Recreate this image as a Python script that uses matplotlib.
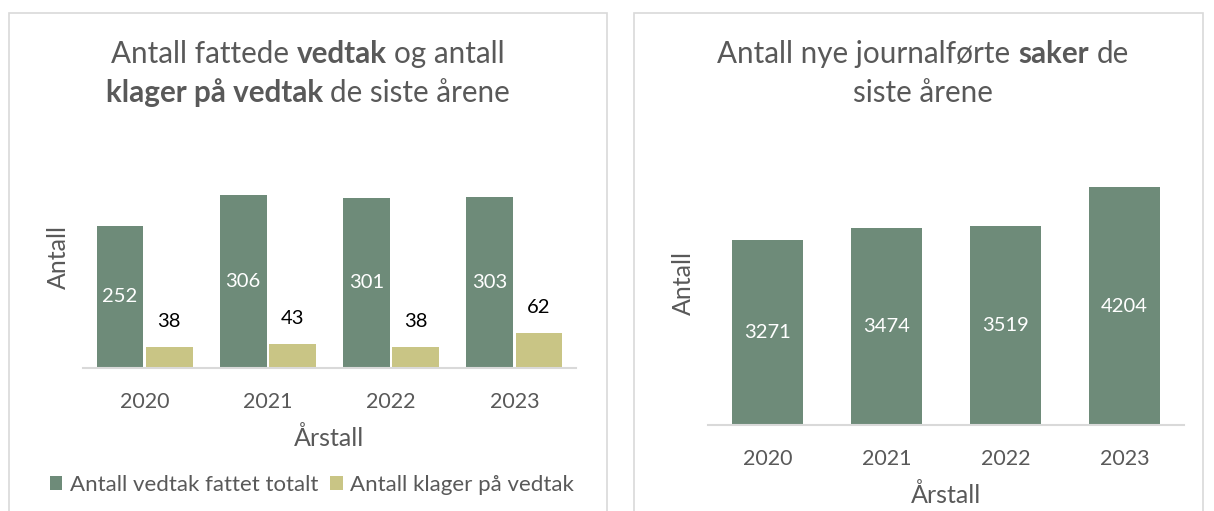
import matplotlib.pyplot as plt
import numpy as np
from matplotlib.patches import Rectangle

plt.rcParams['font.family'] = ['Lato', 'DejaVu Sans']

# Data
aar = ['2020', '2021', '2022', '2023']
vedtak = [252, 306, 301, 303]
klager = [38, 43, 38, 62]
saker = [3271, 3474, 3519, 4204]

W, H = 1214, 511
fig = plt.figure(figsize=(W / 100, H / 100), dpi=100)


def fx(px):
    return px / W


def fy(py):
    return 1 - py / H


gra = '#595959'
gronn = '#6E8B79'
gul = '#C9C585'
linje = '#D9D9D9'

# rammer rundt de to diagrammene
fig.add_artist(Rectangle((fx(9), fy(520)), fx(607) - fx(9), fy(13) - fy(520),
                         transform=fig.transFigure, fill=False, edgecolor=linje, lw=1.2))
fig.add_artist(Rectangle((fx(634), fy(520)), fx(1203) - fx(634), fy(13) - fy(520),
                         transform=fig.transFigure, fill=False, edgecolor=linje, lw=1.2))


def stil_akse(ax):
    for s in ['top', 'left', 'right']:
        ax.spines[s].set_visible(False)
    ax.spines['bottom'].set_color(linje)
    ax.spines['bottom'].set_linewidth(1.5)
    ax.set_yticks([])
    ax.tick_params(axis='x', length=0, labelsize=15.5, labelcolor=gra, pad=17)


# venstre diagram
ax1 = fig.add_axes([fx(83), fy(368), fx(576) - fx(83), fy(170) - fy(368)])
x = np.arange(len(aar))
b1 = ax1.bar(x - 0.2, vedtak, 0.38, color=gronn, label='Antall vedtak fattet totalt')
b2 = ax1.bar(x + 0.2, klager, 0.38, color=gul, label='Antall klager på vedtak')
ax1.set_xlim(-0.5, 3.5)
ax1.set_ylim(0, 198 / 0.565)
ax1.set_xticks(x, aar)
stil_akse(ax1)
for xi, v in zip(x, vedtak):
    ax1.text(xi - 0.2, v / 2, str(v), ha='center', va='center', color='white', fontsize=14.5)
for xi, v in zip(x, klager):
    ax1.annotate(str(v), (xi + 0.2, v), xytext=(0, 18), textcoords='offset points',
                 ha='center', va='center', color='black', fontsize=14.5)

fig.text(fx(58), fy(257), 'Antall', rotation=90, ha='center', va='center', color=gra, fontsize=18)
fig.text(fx(329), fy(438), 'Årstall', ha='center', va='center', color=gra, fontsize=18)

fig.legend(handles=[b1, b2], loc='center', bbox_to_anchor=(fx(312), fy(485)), ncol=2,
           frameon=False, fontsize=16, labelcolor=gra, handlelength=0.55, handleheight=0.55,
           handletextpad=0.35, columnspacing=0.55)

# høyre diagram
ax2 = fig.add_axes([fx(708), fy(425), fx(1184) - fx(708), fy(170) - fy(425)])
ax2.bar(x, saker, 0.59, color=gronn)
ax2.set_xlim(-0.5, 3.5)
ax2.set_ylim(0, 255 / 0.0566)
ax2.set_xticks(x, aar)
stil_akse(ax2)
for xi, v in zip(x, saker):
    ax2.text(xi, v / 2, str(v), ha='center', va='center', color='white', fontsize=14.5)

fig.text(fx(683), fy(283), 'Antall', rotation=90, ha='center', va='center', color=gra, fontsize=18)
fig.text(fx(946), fy(495), 'Årstall', ha='center', va='center', color=gra, fontsize=18)

# titler med delvis fet skrift
renderer = fig.canvas.get_renderer()


def bredde(tekst, fet, size):
    t = fig.text(0, 0, tekst, fontsize=size, fontweight='bold' if fet else 'normal')
    w = t.get_window_extent(renderer).width
    t.remove()
    return w


def tittel_linje(deler, cx, base_y, size=21.3):
    mellom = bredde('a a', False, size) - bredde('aa', False, size)
    tekster = []
    for s, fet in deler:
        t = fig.text(0, fy(base_y), s, fontsize=size, color=gra, va='baseline', ha='left',
                     fontweight='bold' if fet else 'normal')
        tekster.append(t)
    bredder = [t.get_window_extent(renderer).width for t in tekster]
    total = sum(bredder) + mellom * (len(tekster) - 1)
    x0 = cx - total / 2
    for t, w in zip(tekster, bredder):
        t.set_x(x0 / W)
        x0 += w + mellom


tittel_linje([('Antall fattede', False), ('vedtak', True), ('og antall', False)], 308, 63)
tittel_linje([('klager på vedtak', True), ('de siste årene', False)], 308, 102)
tittel_linje([('Antall nye journalførte', False), ('saker', True), ('de', False)], 923, 63)
tittel_linje([('siste årene', False)], 923, 102)

fig.savefig('out.png', dpi=100)
